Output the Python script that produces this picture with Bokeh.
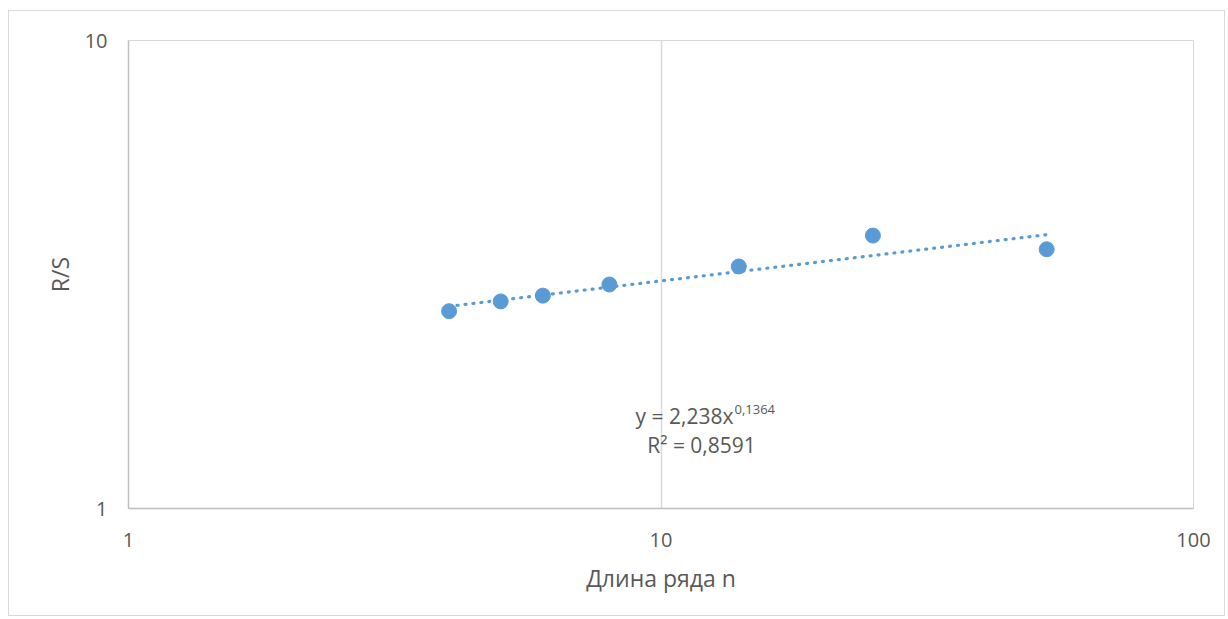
from bokeh.plotting import figure
from bokeh.models import FixedTicker, Label, ColumnDataSource
from bokeh.embed import file_html
from bokeh.resources import INLINE
import numpy as np

# data
n_values = [4, 5, 6, 8, 14, 25, 53]
rs_values = [2.64, 2.77, 2.85, 3.01, 3.29, 3.83, 3.58]
x_ticks = [1, 10, 100]
y_ticks = [1, 10]
trend_coef = 2.238
trend_exp = 0.1364
eq_text = "y = 2,238x"
eq_sup = "0,1364"
r2_text = "R² = 0,8591"
x_title = "Длина ряда n"
y_title = "R/S"

FONT = "Open Sans"
TXT = "#595959"

W, H = 1217, 606
p = figure(width=W, height=H, x_axis_type="log", y_axis_type="log",
           x_range=(1, 100), y_range=(1, 10), output_backend="svg",
           toolbar_location=None, min_border_left=119, min_border_right=W - 119 - 1065,
           min_border_top=29, min_border_bottom=H - 29 - 468)
p.styles = {"border": "1px solid #d9d9d9", "margin-left": "8px", "margin-top": "10px"}
p.outline_line_color = "#d9d9d9"
p.outline_line_width = 1

for ax, ticks in ((p.xaxis[0], x_ticks), (p.yaxis[0], y_ticks)):
    ax.ticker = FixedTicker(ticks=ticks, minor_ticks=[])
    ax.major_label_overrides = {t: str(t) for t in ticks}
    ax.axis_line_color = "#bfbfbf"
    ax.axis_line_width = 1.5
    ax.major_tick_line_color = None
    ax.minor_tick_line_color = None
    ax.major_label_text_font = FONT
    ax.major_label_text_font_size = "20px"
    ax.major_label_text_color = TXT
    ax.axis_label_text_font = FONT
    ax.axis_label_text_font_size = "23px"
    ax.axis_label_text_color = TXT
    ax.axis_label_text_font_style = "normal"

p.xaxis.axis_label = x_title
p.yaxis.axis_label = y_title
p.xaxis.major_label_standoff = 18
p.yaxis.major_label_standoff = 15
p.xaxis.axis_label_standoff = 12
p.yaxis.axis_label_standoff = 6

p.xgrid.ticker = FixedTicker(ticks=x_ticks)
p.ygrid.ticker = FixedTicker(ticks=y_ticks)
p.xgrid.grid_line_color = "#d9d9d9"
p.ygrid.grid_line_color = "#d9d9d9"
p.xgrid.grid_line_width = 1.5

# trend line
tx = np.logspace(np.log10(min(n_values)), np.log10(max(n_values)), 100)
ty = trend_coef * tx ** trend_exp
p.line(tx, ty, line_color="#5B9BD5", line_width=3.2, line_dash="1 7",
       line_cap="round")

src = ColumnDataSource(dict(x=n_values, y=rs_values))
p.scatter("x", "y", source=src, size=15, fill_color="#5B9BD5",
          line_color="#5B9BD5")

# equation labels (screen units, frame-relative)
p.add_layout(Label(x=605, y=93, x_units="screen", y_units="screen",
                   text=eq_text, text_font=FONT, text_font_size="21px",
                   text_color=TXT, text_align="right", text_baseline="alphabetic"))
p.add_layout(Label(x=606, y=99, x_units="screen", y_units="screen",
                   text=eq_sup, text_font=FONT, text_font_size="13px",
                   text_color=TXT, text_align="left", text_baseline="alphabetic"))
p.add_layout(Label(x=573, y=64, x_units="screen", y_units="screen",
                   text=r2_text, text_font=FONT, text_font_size="21px",
                   text_color=TXT, text_align="center", text_baseline="alphabetic"))

open("out.html", "w").write(file_html(p, INLINE))
